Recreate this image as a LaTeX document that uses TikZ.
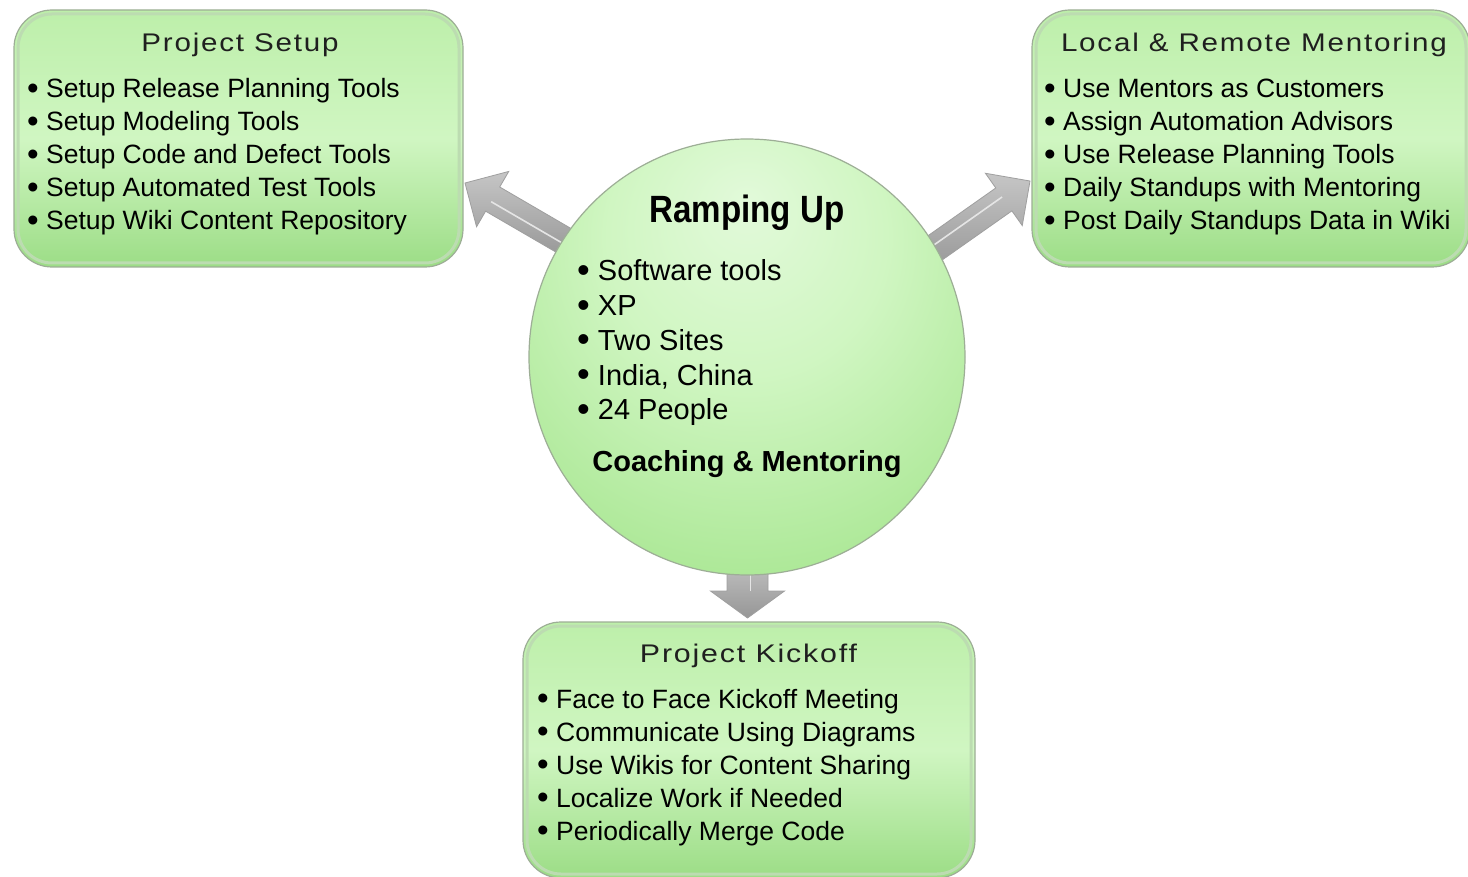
\documentclass[tikz,border=0pt]{standalone}
\usepackage{fontspec}
\usepackage{graphicx}
\setmainfont{Liberation Sans}
\newfontfamily\titlefont[LetterSpace=6]{Liberation Sans}
\usetikzlibrary{calc}

\definecolor{greenhi}{HTML}{E2FADA}
\definecolor{greenlight}{HTML}{D0F6C2}
\definecolor{greenmid}{HTML}{BDEFAA}
\definecolor{greendark}{HTML}{9CDD86}
\definecolor{greenedge}{HTML}{86C072}
\definecolor{ballmid}{HTML}{AAE794}
\definecolor{ballout}{HTML}{8CD474}
\definecolor{balledge}{HTML}{7BBC66}
\definecolor{rimgray}{HTML}{9DAE96}

\pgfdeclareradialshading{ballgreen}{\pgfpoint{0bp}{18bp}}{%
  color(0bp)=(greenhi); color(16bp)=(greenlight); color(36bp)=(ballmid);
  color(57bp)=(ballout); color(66bp)=(balledge); color(70bp)=(balledge)}

% bigger list bullet
\newcommand\dotmark{\raisebox{-1.6pt}{\scalebox{1.25}{\textbullet}}}

% block arrow: tail, tip, head length, shaft half-width, head half-width
\newcommand\grayarrow[5]{%
  \coordinate (ga-h) at ($(#2)!#3!(#1)$);
  \path[arrowbody] ($(#1)!#4!90:(#2)$) -- ($(ga-h)!#4!90:(#2)$)
    -- ($(ga-h)!#5!90:(#2)$) -- (#2) -- ($(ga-h)!#5!-90:(#2)$)
    -- ($(ga-h)!#4!-90:(#2)$) -- ($(#1)!#4!-90:(#2)$) -- cycle;
  \draw[white!80!gray, line width=1.6pt] ($(#1)!3pt!90:(#2)$) -- ($(ga-h)!3pt!90:(#2)$);
}

\tikzset{
  panel/.style={rectangle, rounded corners=38pt, draw=rimgray, line width=1.2pt,
    top color=greenmid, bottom color=greendark, middle color=greenlight,
    inner sep=0pt},
  panelrim/.style={rectangle, rounded corners=34pt, draw=greenedge!55, line width=3pt,
    inner sep=0pt},
  ball/.style={circle, shading=ballgreen, draw=rimgray, line width=1.2pt,
    minimum size=436pt, inner sep=0pt},
  arrowbody/.style={top color=gray!45, bottom color=gray!82, draw=gray!75, line width=0.8pt},
  item/.style={font=\fontsize{26.5}{30}\selectfont, anchor=base west, inner sep=0pt},
  bigitem/.style={font=\fontsize{29}{33}\selectfont, anchor=base west, inner sep=0pt},
  heading/.style={font=\titlefont\fontsize{25.5}{28}\selectfont, text=black!88, anchor=base, inner sep=0pt},
}

\begin{document}
\begin{tikzpicture}[x=1pt, y=-1pt]
\useasboundingbox (0,0) rectangle (1468,877);
\fill[white] (0,0) rectangle (1468,877);
\clip (0,0) rectangle (1468,877);

% arrow end points
\coordinate (la-tail) at (575,247);
\coordinate (la-tip) at (465,183);
\coordinate (ra-tail) at (915,262);
\coordinate (ra-tip) at (1030,181);
\coordinate (da-tail) at (747.5,555);
\coordinate (da-tip) at (747.5,618);

\grayarrow{la-tail}{la-tip}{32pt}{14pt}{32pt}
\grayarrow{ra-tail}{ra-tip}{32pt}{14pt}{32pt}
\grayarrow{da-tail}{da-tip}{27pt}{20.5pt}{37pt}

% panels
\node[panel, minimum width=449pt, minimum height=257pt] (setup) at (238.5,138.5) {};
\node[panelrim, minimum width=441pt, minimum height=249pt] (setuprim) at (238.5,138.5) {};
\node[panel, minimum width=438pt, minimum height=257pt] (mentor) at (1251,138.5) {};
\node[panelrim, minimum width=430pt, minimum height=249pt] (mentorrim) at (1251,138.5) {};
\node[panel, minimum width=452pt, minimum height=256pt] (kickoff) at (749,750) {};
\node[panelrim, minimum width=444pt, minimum height=248pt] (kickoffrim) at (749,750) {};

% central ball
\node[ball] (ramp) at (747,357) {};

% headings
\node[heading] (setupt) at (240,52) {\resizebox{197pt}{\height}{Project Setup}};
\node[heading] (mentort) at (1254,52) {\resizebox{386pt}{\height}{Local \& Remote Mentoring}};
\node[heading] (kickofft) at (748.5,662) {\resizebox{217pt}{\height}{Project Kickoff}};

\node[anchor=base, inner sep=0pt] (rampt) at (747,223)
  {\resizebox{195pt}{\height}{\fontsize{38}{42}\selectfont\bfseries Ramping Up}};
\node[anchor=base, inner sep=0pt, font=\fontsize{29}{33}\selectfont\bfseries] (coach) at (747,471)
  {Coaching \& Mentoring};

% bullet lists
\foreach \t [count=\i] in {Setup Release Planning Tools, Setup Modeling Tools,
    Setup Code and Defect Tools, Setup Automated Test Tools, Setup Wiki Content Repository}
  \node[item] (ps\i) at (27,{65+33*\i}) {\dotmark\ \t};

\foreach \t [count=\i] in {Use Mentors as Customers, Assign Automation Advisors,
    Use Release Planning Tools, Daily Standups with Mentoring, Post Daily Standups Data in Wiki}
  \node[item] (lr\i) at (1044,{65+33*\i}) {\dotmark\ \t};

\foreach \t [count=\i] in {Face to Face Kickoff Meeting, Communicate Using Diagrams,
    Use Wikis for Content Sharing, Localize Work if Needed, Periodically Merge Code}
  \node[item] (pk\i) at (537,{675+33*\i}) {\dotmark\ \t};

\foreach \t [count=\i] in {Software tools, XP, Two Sites, {India, China}, 24 People}
  \node[bigitem] (ru\i) at (577,{246.3+34.7*\i}) {\dotmark\ \t};
\end{tikzpicture}
\end{document}
